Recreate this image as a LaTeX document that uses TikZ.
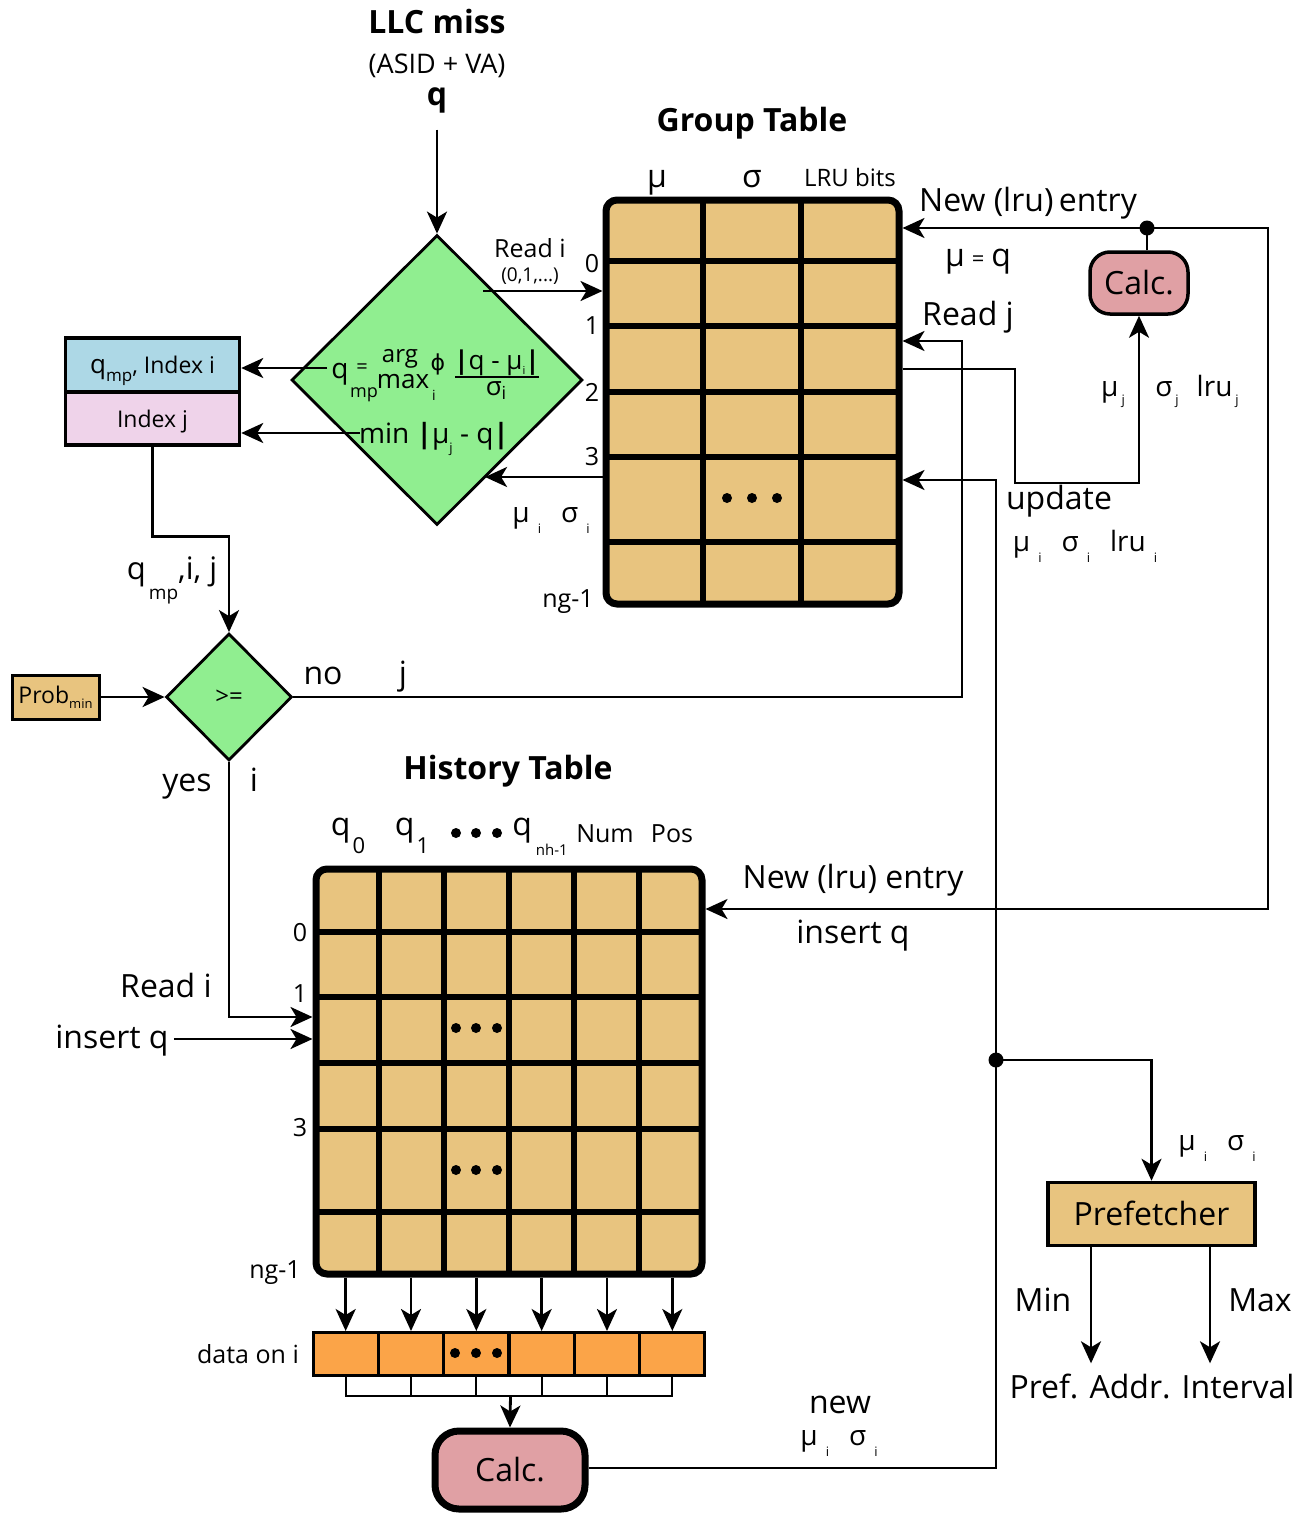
\documentclass[tikz,border=0pt]{standalone}
\usepackage{fontspec}
\setmainfont{Open Sans}
\newfontfamily\dvs{DejaVu Sans}
\usetikzlibrary{arrows.meta,shapes.geometric,calc}
\newcommand\fsz[1]{\fontsize{#1pt}{#1pt}\selectfont}
\newcommand\dn[2][-11pt]{\raisebox{#1}{\fsz{13}#2}}
\definecolor{lgreen}{HTML}{90EE90}
\definecolor{lblue}{HTML}{ADD8E6}
\definecolor{lpink}{HTML}{EFD3EA}
\definecolor{tancol}{HTML}{E8C47F}
\definecolor{orng}{HTML}{FBA448}
\definecolor{calcc}{HTML}{E0A0A4}
\begin{document}
\begin{tikzpicture}[x=1pt,y=-1pt,
  conn/.style={line width=2.8pt},
  arr/.style={line width=2.8pt,-{Stealth[length=22pt,width=20pt,inset=6pt]}},
  big/.style={font=\fsz{32},inner sep=0pt,text height=23pt,text depth=0pt},
  bigb/.style={font=\fsz{32}\bfseries,inner sep=0pt,text height=23pt,text depth=0pt},
  sm/.style={font=\fsz{25},inner sep=0pt,text height=18pt,text depth=0pt},
  bl/.style={inner sep=0pt,anchor=base},
  jdot/.style={circle,fill=black,minimum size=15pt,inner sep=0pt},
  tdot/.style={circle,fill=black,minimum size=10pt,inner sep=0pt},
  box/.style={draw,line width=3.5pt,inner sep=0pt},
  tbl/.style={draw,fill=tancol,line width=7pt,rounded corners=11pt,inner sep=0pt},
]
\useasboundingbox (0,0) rectangle (1311,1515);

% ---------- titles ----------
\node[bigb] (llc) at (437,22) {LLC miss};
\node[font=\fsz{27},inner sep=0pt,text height=19pt,text depth=0pt] (asid) at (437,64) {(ASID + VA)};
\node[bigb] (qin) at (437,94) {q};

% ---------- big diamond ----------
\node[diamond,draw,fill=lgreen,line width=2.8pt,minimum width=291pt,minimum height=290pt,inner sep=0pt] (d1) at (437,380) {};
\draw[arr] (qin.south) ++(0,24) -- (d1.north);

\node[bl,font=\fsz{28}] (fq) at (340,378) {q};
\node[bl,font=\fsz{18}] (fmp) at (364,397) {mp};
\node[bl,font=\fsz{20}] (feq) at (362,373) {=};
\node[bl,font=\fsz{24}] (farg) at (400,362) {arg};
\node[bl,font=\fsz{26}] (fmax) at (403,388) {max};
\node[bl,font=\fsz{14}] (fi) at (434,400) {i};
\node[bl,font=\fsz{22}\dvs] (fphi) at (438,370) {ϕ};
\node[bl,font=\fsz{26}] (fnum) at (497,369) {\textbf{|}q - μ\raisebox{-5pt}{\fsz{11}i}\textbf{|}};
\draw[line width=2.5pt] (455,377) -- (539,377);
\node[bl,font=\fsz{26}] (fden) at (496,395) {σ\raisebox{-4pt}{\fsz{18}i}};
\node[bl,font=\fsz{28}] (fmin) at (434,443) {min \textbf{|}μ\dn[-9pt]{j} - q\textbf{|}};

% ---------- left boxes ----------
\node[box,fill=lblue,minimum width=174pt,minimum height=54pt,font=\fsz{23},text height=17pt,text depth=0pt] (qb) at (152.5,365) {{\fsz{26}q}\raisebox{-8pt}{\fsz{17}mp}, Index i};
\node[box,fill=lpink,minimum width=174pt,minimum height=53pt,font=\fsz{23},text height=17pt,text depth=0pt] (ib) at (152.5,418.5) {Index j};
\coordinate (fs1) at (327,368);
\coordinate (fs2) at (360,433);
\draw[arr] (fs1) -- (qb.east |- fs1);
\draw[arr] (fs2) -- (ib.east |- fs2);

% ---------- small diamond ----------
\node[diamond,draw,fill=lgreen,line width=2.8pt,minimum width=126pt,minimum height=127pt,inner sep=0pt,font=\fsz{24}] (d2) at (229,697) {>=};
\draw[arr] (ib.south) -- ++(0,90) -| (d2.north);
\node[bl,font=\fsz{31}] (lqmp) at (172,579) {q\hspace{3pt}\raisebox{-20pt}{\fsz{19}mp},i, j};

\node[box,fill=tancol,minimum width=87pt,minimum height=44pt,font=\fsz{23},line width=3pt] (pb) at (55.5,697) {Prob\raisebox{-5pt}{\fsz{13}min}};
\draw[arr] (pb.east) -- (d2.west);

\node[big] (lno) at (323,673) {no};
\node[big] (lj) at (403,673) {j};
\node[big] (lyes) at (187,780) {yes};
\node[big] (li) at (254,780) {i};

% ---------- group table ----------
\node[tbl,minimum width=293pt,minimum height=404pt] (gt) at (752.5,402) {};
\foreach \x in {703,801} \draw[line width=6pt] (\x,200) -- (\x,604);
\foreach \y in {261,326,392,457,542} \draw[line width=6pt] (606,\y) -- (899,\y);
\foreach \x in {727,752,777} \node[tdot] (gtd\x) at (\x,498) {};
\node[bigb] (gtt) at (752,120) {Group Table};
\node[big] (gmu) at (657,176) {μ};
\node[big] (gsig) at (752,176) {σ};
\node[font=\fsz{24},inner sep=0pt,text height=17pt,text depth=0pt] (glru) at (850,178) {LRU bits};
\node[sm] (gr0) at (592,263) {0};
\node[sm] (gr1) at (592,325) {1};
\node[sm] (gr2) at (592,392) {2};
\node[sm] (gr3) at (592,456) {3};
\node[sm] (grn) at (568,598) {ng-1};

\coordinate (ri) at (483,291);
\draw[arr] (ri) -- (gt.west |- ri);
\node[sm] (lreadi) at (530,248) {Read i};
\node[font=\fsz{19},inner sep=0pt,text height=14pt,text depth=0pt] (l01) at (530,274) {(0,1,...)};
\draw[arr] (gt.west |- 0,477) -- (d1.-64 |- 0,477);
\node[bl,font=\fsz{28}] (lmsi) at (551,522) {μ\hspace{8pt}\dn{i}\hspace{20pt}σ\hspace{8pt}\dn{i}};

% ---------- read j ----------
\draw[arr] (d2.east) -| (962,341) -- (gt.east |- 0,341);
\node[big] (lreadj) at (968,314) {Read j};

% ---------- top calc ----------
\node[draw,fill=calcc,line width=3.5pt,rounded corners=20pt,minimum width=98pt,minimum height=62pt,inner sep=0pt,font=\fsz{32},text height=23pt,text depth=0pt] (calc1) at (1139,283) {Calc.};
\coordinate (jt) at (1147,228);
\draw[conn] (calc1.north -| jt) -- (jt);
\draw[arr] (jt) -- (gt.east |- jt);
\node[big] (nle1) at (1028,200) {New (lru)\hspace{-3pt} entry};
\node[big] (lmuq) at (978,255) {μ\hspace{7pt}{\fsz{22}=}\hspace{7pt}q};

\draw[arr] (gt.east |- 0,369) -| (1015,483) -| (calc1.south);
\node[bl,font=\fsz{28}] (lmuj) at (1113,396) {μ\hspace{3pt}\dn[-8pt]{j}};
\node[bl,font=\fsz{28}] (lsigj) at (1197,396) {σ\hspace{3pt}\dn[-8pt]{j}\hspace{18pt}lru\hspace{3pt}\dn[-8pt]{j}};
\node[big] (lupd) at (1059,498) {update};
\node[bl,font=\fsz{28}] (lupv) at (1085,551) {μ\hspace{8pt}\dn{i}\hspace{20pt}σ\hspace{8pt}\dn{i}\hspace{20pt}lru\hspace{8pt}\dn{i}};

% ---------- history table ----------
\node[tbl,minimum width=386pt,minimum height=405pt] (ht) at (509,1071.5) {};
\foreach \x in {379,444,509,574,639} \draw[line width=6pt] (\x,869) -- (\x,1274);
\foreach \y in {932,997,1063,1129,1212} \draw[line width=6pt] (316,\y) -- (702,\y);
\foreach \x in {456,476,497} {
  \node[tdot] (htda\x) at (\x,1028) {};
  \node[tdot] (htdb\x) at (\x,1170) {};
  \node[tdot] (htdc\x) at (\x,833) {};
}
\node[bigb] (htt) at (508,768) {History Table};
\node[bl,font=\fsz{32}] (hq0) at (348,835) {q\hspace{2pt}\raisebox{-18pt}{\fsz{22}0}};
\node[bl,font=\fsz{32}] (hq1) at (412,835) {q\hspace{2pt}\raisebox{-18pt}{\fsz{22}1}};
\node[bl,font=\fsz{32}] (hqn) at (540,835) {q\hspace{4pt}\raisebox{-20pt}{\fsz{15}nh-1}};
\node[sm] (hnum) at (605,833) {Num};
\node[sm] (hpos) at (672,833) {Pos};
\node[sm] (hr0) at (300,932) {0};
\node[sm] (hr1) at (300,993) {1};
\node[sm] (hr3) at (300,1127) {3};
\node[sm] (hrn) at (275,1269) {ng-1};

\draw[arr] (d2.south) |- (ht.west |- 0,1017);
\node[big] (lreadi2) at (166,986) {Read i};
\node[big] (insq) at (112,1037) {insert q};
\draw[arr] (insq.east) ++(5,2) -- (ht.west |- 0,1039);

\draw[arr] (jt) -| (1268,909) -- (ht.east |- 0,909);
\node[jdot] (jtd) at (jt) {};
\node[big] (nle2) at (853,877) {New (lru) entry};
\node[big] (insq2) at (853,932) {insert q};

% ---------- data on i ----------
\foreach \i in {1,...,6}
  \node[draw,fill=orng,line width=3pt,minimum width=65.3pt,minimum height=43pt,inner sep=0pt] (dc\i) at ({313+65.33*(\i-0.5)},1354) {};
\foreach \x in {455,476,497} \node[tdot] (dcd\x) at (\x,1353) {};
\foreach \i in {1,...,6} \draw[arr] (ht.south -| dc\i) -- (dc\i.north);
\node[sm] (ldata) at (248,1354) {data on i};
\draw[line width=2.3pt] (dc1.south) -- ++(0,19) -| (dc6.south);
\foreach \i in {2,...,5} \draw[line width=2.3pt] (dc\i.south) -- ++(0,19);

\node[draw,fill=calcc,line width=7pt,rounded corners=24pt,minimum width=150pt,minimum height=78pt,inner sep=0pt,font=\fsz{32},text height=23pt,text depth=0pt] (calc2) at (510,1470) {Calc.};
\draw[arr] ($(dc3.south east)+(0,19)$) -- (calc2.north);

% ---------- update line & prefetcher ----------
\node[box,fill=tancol,minimum width=207pt,minimum height=63pt,font=\fsz{32},text height=23pt,text depth=0pt] (pf) at (1151.5,1214) {Prefetcher};
\coordinate (jn) at (996,1060);
\draw[arr] (calc2.east |- 0,1468) -| (jn) |- (gt.east |- 0,480);
\draw[arr] (jn) -| (pf.north);
\node[jdot] (jnd) at (jn) {};
\node[big] (lnew) at (840,1402) {new};
\node[bl,font=\fsz{28}] (lnewv) at (839,1445) {μ\hspace{8pt}\dn{i}\hspace{20pt}σ\hspace{8pt}\dn{i}};
\node[bl,font=\fsz{28}] (lpfv) at (1217,1150) {μ\hspace{8pt}\dn{i}\hspace{20pt}σ\hspace{8pt}\dn{i}};

\node[big] (pai) at (1152,1387) {Pref. Addr. Interval};
\draw[arr,shorten >=12pt] (pf.south -| 1091,0) -- (pai.north -| 1091,0);
\draw[arr,shorten >=12pt] (pf.south -| 1210,0) -- (pai.north -| 1210,0);
\node[big] (lmin) at (1043,1300) {Min};
\node[big] (lmax) at (1260,1300) {Max};
\end{tikzpicture}
\end{document}
